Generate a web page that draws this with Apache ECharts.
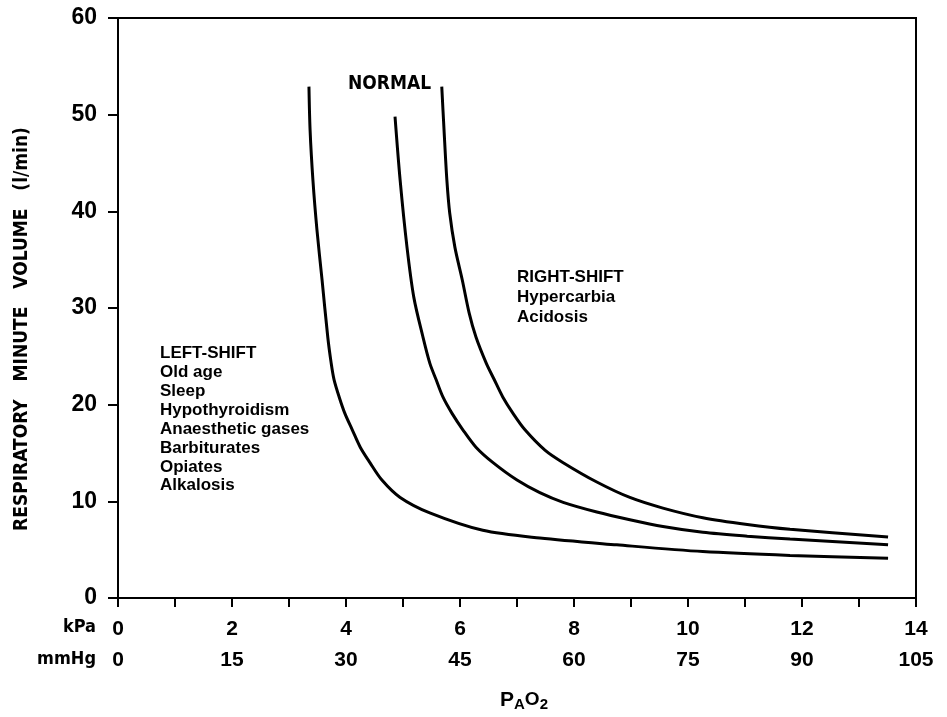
<!DOCTYPE html>
<html>
<head>
<meta charset="utf-8">
<script src="https://cdn.jsdelivr.net/npm/echarts@6/dist/echarts.min.js"></script>
<style>
  html, body { margin: 0; padding: 0; background: #fff; }
  #chart { width: 947px; height: 717px; }
</style>
</head>
<body>
<div id="chart"></div>
<script>
// Ventilatory response to alveolar PO2: minute volume (l/min) against PAO2 (kPa)
const kpaTicks = [0, 2, 4, 6, 8, 10, 12, 14];
const mmHgTicks = [0, 15, 30, 45, 60, 75, 90, 105];

// Left-shifted response curve
const leftKpa = [3.35, 3.37, 3.42, 3.49, 3.58, 3.68, 3.74, 3.79, 3.88, 3.98, 4.11, 4.25, 4.42, 4.63, 4.95, 5.47, 6.40, 7.40, 8.75, 10.26, 11.79, 13.51];
const leftVol = [52.9, 48.4, 43.2, 38.1, 32.9, 27.0, 24.3, 22.6, 20.8, 19.1, 17.4, 15.6, 14.0, 12.2, 10.4, 8.8, 7.0, 6.2, 5.5, 4.8, 4.4, 4.1];

// Normal response curve
const normalKpa = [4.86, 4.95, 5.07, 5.19, 5.35, 5.47, 5.58, 5.70, 5.86, 6.05, 6.28, 6.58, 7.00, 7.40, 7.81, 8.40, 8.98, 9.56, 10.26, 11.04, 11.79, 13.51];
const normalVol = [49.8, 43.2, 36.3, 31.1, 27.0, 24.3, 22.6, 20.8, 19.1, 17.4, 15.6, 14.0, 12.2, 10.9, 9.9, 8.9, 8.1, 7.4, 6.8, 6.4, 6.1, 5.5];

// Right-shifted response curve
const rightKpa = [5.68, 5.72, 5.77, 5.82, 5.91, 6.04, 6.16, 6.28, 6.46, 6.60, 6.75, 6.93, 7.14, 7.49, 7.81, 8.40, 8.98, 9.56, 10.26, 11.04, 11.79, 13.51];
const rightVol = [52.9, 48.4, 43.2, 39.8, 36.3, 32.9, 29.5, 27.0, 24.3, 22.6, 20.8, 19.1, 17.4, 15.3, 14.0, 12.0, 10.4, 9.3, 8.3, 7.6, 7.1, 6.3];

const leftNotes = ['LEFT-SHIFT', 'Old age', 'Sleep', 'Hypothyroidism', 'Anaesthetic gases', 'Barbiturates', 'Opiates', 'Alkalosis'];
const rightNotes = ['RIGHT-SHIFT', 'Hypercarbia', 'Acidosis'];

const pair = (xs, ys) => xs.map((x, i) => [x, ys[i]]);

const SANS = '"Liberation Sans", Arial, Helvetica, sans-serif';
const NARROW = '"Liberation Sans Narrow", "DejaVu Sans Condensed", "Liberation Sans", sans-serif';

const curve = (name, data) => ({
  name,
  type: 'line',
  xAxisIndex: 0,
  data,
  smooth: 0.3,
  showSymbol: false,
  lineStyle: { color: '#000', width: 3 },
  silent: true
});

const chart = echarts.init(document.getElementById('chart'), null, { renderer: 'canvas' });

chart.setOption({
  backgroundColor: '#fff',
  animation: false,
  grid: {
    left: 118, right: 31, top: 18, bottom: 119,
    show: true, borderColor: '#000', borderWidth: 2
  },
  xAxis: [
    {
      type: 'value', min: 0, max: 14, interval: 1,
      axisLine: { show: true, lineStyle: { color: '#000', width: 2 } },
      axisTick: { show: true, length: 9, lineStyle: { color: '#000', width: 2 } },
      splitLine: { show: false },
      axisLabel: {
        margin: 21,
        color: '#000', fontFamily: SANS, fontWeight: 'bold', fontSize: 21,
        formatter: v => (kpaTicks.includes(v) ? String(v) : '')
      }
    },
    {
      type: 'value', min: 0, max: 105, interval: 15,
      position: 'bottom',
      axisLine: { show: false },
      axisTick: { show: false },
      splitLine: { show: false },
      axisLabel: {
        margin: 52,
        color: '#000', fontFamily: SANS, fontWeight: 'bold', fontSize: 21,
        formatter: v => (mmHgTicks.includes(v) ? String(v) : '')
      }
    }
  ],
  yAxis: {
    type: 'value', min: 0, max: 60, interval: 10,
    axisLine: { show: true, lineStyle: { color: '#000', width: 2 } },
    axisTick: { show: true, length: 10, lineStyle: { color: '#000', width: 2 } },
    splitLine: { show: false },
    axisLabel: {
      margin: 21,
      color: '#000', fontFamily: SANS, fontWeight: 'bold', fontSize: 23
    }
  },
  series: [
    curve('Left-shift', pair(leftKpa, leftVol)),
    curve('Normal', pair(normalKpa, normalVol)),
    curve('Right-shift', pair(rightKpa, rightVol))
  ],
  graphic: [
    {
      type: 'text', x: 22, y: 329, rotation: Math.PI / 2,
      style: {
        text: 'RESPIRATORY   MINUTE   VOLUME   (l/min)',
        fill: '#000', font: 'bold 19px ' + NARROW,
        align: 'center', verticalAlign: 'middle'
      }
    },
    {
      type: 'text', x: 96, y: 627,
      style: { text: 'kPa', fill: '#000', font: 'bold 18px ' + NARROW, align: 'right', verticalAlign: 'middle' }
    },
    {
      type: 'text', x: 96, y: 659,
      style: { text: 'mmHg', fill: '#000', font: 'bold 18px ' + NARROW, align: 'right', verticalAlign: 'middle' }
    },
    {
      type: 'text', x: 524, y: 700,
      style: {
        text: '{p|P}{s|A}{o|O}{s|2}',
        align: 'center', verticalAlign: 'middle',
        rich: {
          p: { fill: '#000', font: 'bold 21px ' + SANS },
          o: { fill: '#000', font: 'bold 19px ' + SANS },
          s: { fill: '#000', font: 'bold 15px ' + SANS, padding: [10, 0, 0, 0] }
        }
      }
    },
    {
      type: 'text', x: 348, y: 84,
      style: { text: 'NORMAL', fill: '#000', font: 'bold 19px ' + NARROW, align: 'left', verticalAlign: 'middle' }
    },
    {
      type: 'text', x: 160, y: 344,
      style: {
        text: leftNotes.join('\n'), fill: '#000', font: 'bold 17px ' + SANS,
        lineHeight: 18.9, align: 'left', verticalAlign: 'top'
      }
    },
    {
      type: 'text', x: 517, y: 267,
      style: {
        text: rightNotes.join('\n'), fill: '#000', font: 'bold 17px ' + SANS,
        lineHeight: 20, align: 'left', verticalAlign: 'top'
      }
    }
  ]
});
</script>
</body>
</html>
